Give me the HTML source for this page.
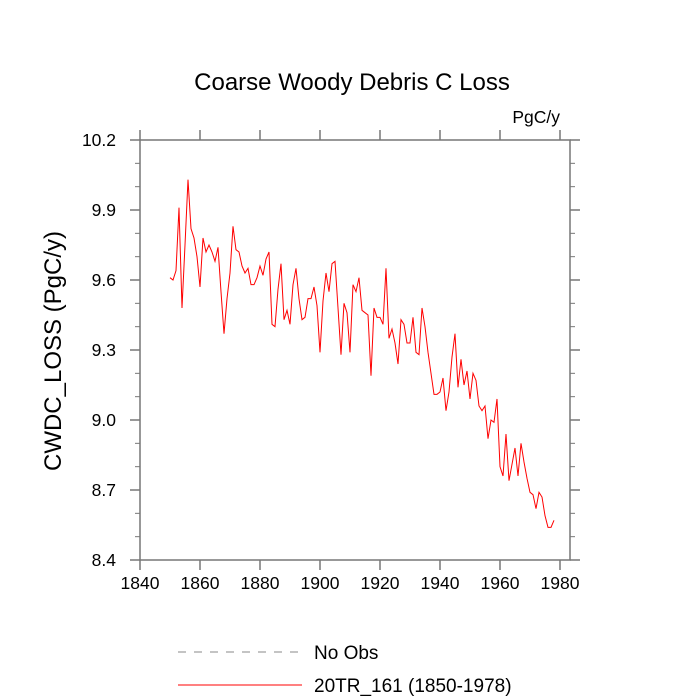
<!DOCTYPE html>
<html><head><meta charset="utf-8"><style>
body{margin:0;background:#fff}
svg{display:block;font-family:"Liberation Sans",sans-serif}
</style></head><body>
<svg id="chart" width="700" height="700">
<text x="352" y="90" font-size="24" text-anchor="middle">Coarse Woody Debris C Loss</text>
<text x="560" y="123" font-size="17.5" text-anchor="end">PgC/y</text>
<text transform="translate(61,351) rotate(-90)" font-size="24" text-anchor="middle">CWDC_LOSS  (PgC/y)</text>
<g id="axes"></g>
<path id="series" fill="none" stroke="#ff0000" stroke-width="1"/>
<line x1="178" y1="652" x2="302" y2="652" stroke="#888" stroke-dasharray="8,8"/>
<text x="314" y="659" font-size="19">No Obs</text>
<line x1="178" y1="685" x2="302" y2="685" stroke="#ff0000"/>
<text x="314" y="692" font-size="19">20TR_161 (1850-1978)</text>
</svg>
<script>
const years=[];for(let y=1850;y<=1978;y++)years.push(y);
const values=[9.61,9.60,9.64,9.91,9.48,9.75,10.03,9.82,9.78,9.70,9.57,9.78,9.72,9.75,9.72,9.68,9.74,9.55,9.37,9.52,9.63,9.83,9.73,9.72,9.66,9.63,9.65,9.58,9.58,9.61,9.66,9.62,9.69,9.72,9.41,9.40,9.56,9.67,9.43,9.47,9.41,9.58,9.65,9.52,9.43,9.44,9.52,9.52,9.57,9.49,9.29,9.51,9.63,9.55,9.67,9.68,9.48,9.28,9.50,9.46,9.29,9.58,9.55,9.61,9.47,9.46,9.45,9.19,9.48,9.44,9.44,9.41,9.65,9.35,9.39,9.33,9.24,9.43,9.41,9.33,9.33,9.44,9.29,9.28,9.48,9.40,9.29,9.20,9.11,9.11,9.12,9.18,9.04,9.12,9.27,9.37,9.14,9.26,9.15,9.21,9.09,9.20,9.17,9.06,9.04,9.06,8.92,9.00,8.99,9.09,8.80,8.76,8.94,8.74,8.81,8.88,8.76,8.90,8.82,8.75,8.69,8.68,8.62,8.69,8.67,8.59,8.54,8.54,8.57];
const xTicks=[1840,1860,1880,1900,1920,1940,1960,1980];
const yTicks=[8.4,8.7,9.0,9.3,9.6,9.9,10.2];
const X0=140,X1=570,Y0=140,Y1=560;
const XMIN=1840,XMAX=1840+430/3;
const sx=v=>X0+(v-XMIN)/(XMAX-XMIN)*(X1-X0);
const sy=v=>Y1-(v-8.4)/1.8*(Y1-Y0);
const NS='http://www.w3.org/2000/svg';
const g=document.getElementById('axes');
function ln(x1,y1,x2,y2,name,w){const l=document.createElementNS(NS,'line');l.setAttribute('x1',x1);l.setAttribute('y1',y1);l.setAttribute('x2',x2);l.setAttribute('y2',y2);l.setAttribute('stroke','#777');l.setAttribute('stroke-width',w||1.5);


g.appendChild(l);}
function tx(x,y,s,anchor,name){const t=document.createElementNS(NS,'text');t.setAttribute('x',x);t.setAttribute('y',y);t.setAttribute('font-size','17.5');t.setAttribute('text-anchor',anchor);t.textContent=s;


g.appendChild(t);}
const fr=document.createElementNS(NS,'rect');fr.setAttribute('x',X0);fr.setAttribute('y',Y0);fr.setAttribute('width',X1-X0);fr.setAttribute('height',Y1-Y0);fr.setAttribute('fill','none');fr.setAttribute('stroke','#777');fr.setAttribute('stroke-width','1.5');


g.appendChild(fr);
xTicks.forEach(v=>{const x=sx(v);ln(x,Y1,x,Y1+10,'x-tick');ln(x,Y0,x,Y0-10,'x-tick-top');tx(x,Y1+29,String(v),'middle','x-tick-label');});
yTicks.forEach((v,i)=>{const y=sy(v);ln(X0,y,X0-10,y,'y-tick');ln(X1,y,X1+10,y,'y-tick-right');tx(X0-24,y+6,v.toFixed(1),'end','y-tick-label');
if(i<yTicks.length-1){for(let k=1;k<3;k++){const ym=sy(v+0.1*k);ln(X0,ym,X0-5,ym,'y-minor-tick',1);ln(X1,ym,X1+5,ym,'y-minor-tick-right',1);}}});
document.getElementById('series').setAttribute('d',values.map((v,i)=>(i?'L':'M')+sx(years[i]).toFixed(2)+','+sy(v).toFixed(2)).join(''));
</script>
</body></html>
